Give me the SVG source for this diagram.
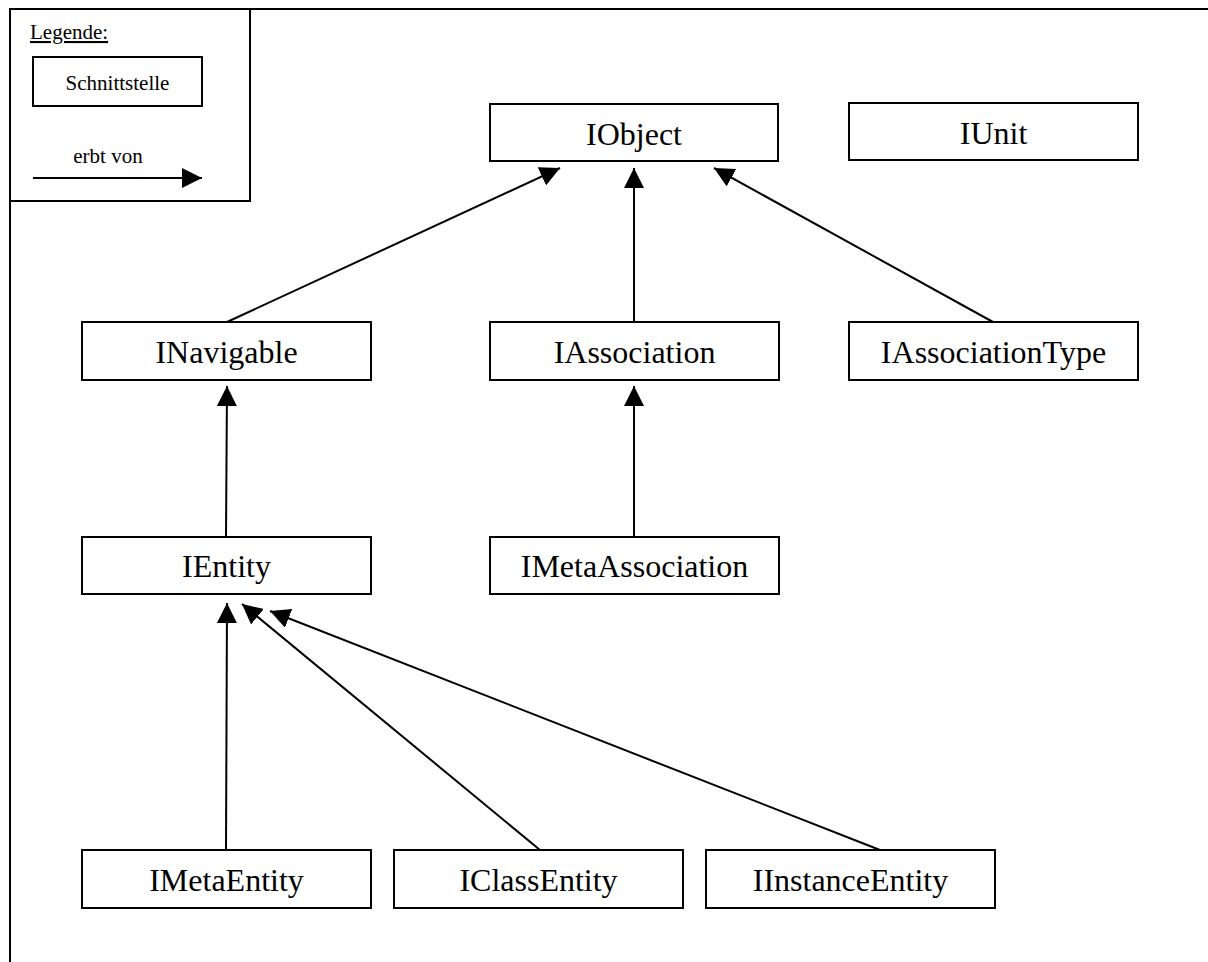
<svg xmlns="http://www.w3.org/2000/svg" width="1208" height="962" viewBox="0 0 1208 962">
  <style>
    .box { fill: #ffffff; stroke: #000000; stroke-width: 2; }
    .lbl { font-family: "Liberation Serif", "Times New Roman", serif; font-size: 32px; fill: #000000; text-anchor: middle; }
    .small { font-family: "Liberation Serif", "Times New Roman", serif; font-size: 21px; fill: #000000; }
    .edge { stroke: #000000; stroke-width: 2; fill: none; marker-end: url(#tri); }
    .frame { stroke: #000000; stroke-width: 2; fill: none; }
  </style>
  <defs>
    <marker id="tri" markerUnits="userSpaceOnUse" markerWidth="20" markerHeight="20" refX="20" refY="10" orient="auto">
      <path d="M0,0 L20,10 L0,20 Z" fill="#000000"/>
    </marker>
  </defs>
  <rect width="1208" height="962" fill="#ffffff"/>

  <!-- page frame (open to the right and bottom) -->
  <path class="frame" d="M10,962 L10,9 L1208,9"/>

  <!-- legend -->
  <g id="legend">
    <rect class="frame" x="10" y="9" width="240" height="192"/>
    <text class="small" x="30" y="39" text-decoration="underline">Legende:</text>
    <rect class="box" x="33" y="57" width="169" height="49"/>
    <text class="small" x="117.5" y="90" text-anchor="middle" font-size="23">Schnittstelle</text>
    <text class="small" x="108" y="163" text-anchor="middle">erbt von</text>
    <line class="edge" x1="33" y1="178" x2="202" y2="178"/>
  </g>

  <!-- inheritance connectors -->
  <g id="connectors">
    <line class="edge" x1="227" y1="322" x2="560" y2="168"/>
    <line class="edge" x1="634" y1="322" x2="634" y2="168"/>
    <line class="edge" x1="993" y1="322" x2="714" y2="168"/>
    <line class="edge" x1="226" y1="537" x2="227" y2="386"/>
    <line class="edge" x1="634" y1="537" x2="634" y2="386"/>
    <line class="edge" x1="226" y1="850" x2="227" y2="603"/>
    <line class="edge" x1="540" y1="850" x2="242" y2="604"/>
    <line class="edge" x1="880" y1="850" x2="270" y2="611"/>
  </g>

  <g id="IObject">
    <rect class="box" x="490" y="104" width="288" height="57"/>
    <text class="lbl" x="634" y="145">IObject</text>
  </g>
  <g id="IUnit">
    <rect class="box" x="849" y="103" width="289" height="57"/>
    <text class="lbl" x="993.5" y="144">IUnit</text>
  </g>
  <g id="INavigable">
    <rect class="box" x="82" y="322" width="289" height="58"/>
    <text class="lbl" x="226.5" y="363">INavigable</text>
  </g>
  <g id="IAssociation">
    <rect class="box" x="490" y="322" width="289" height="58"/>
    <text class="lbl" x="634.5" y="363">IAssociation</text>
  </g>
  <g id="IAssociationType">
    <rect class="box" x="849" y="322" width="289" height="58"/>
    <text class="lbl" x="993.5" y="363">IAssociationType</text>
  </g>
  <g id="IEntity">
    <rect class="box" x="82" y="537" width="289" height="57"/>
    <text class="lbl" x="226.5" y="577">IEntity</text>
  </g>
  <g id="IMetaAssociation">
    <rect class="box" x="490" y="537" width="289" height="57"/>
    <text class="lbl" x="634.5" y="577">IMetaAssociation</text>
  </g>
  <g id="IMetaEntity">
    <rect class="box" x="82" y="850" width="289" height="58"/>
    <text class="lbl" x="226.5" y="891">IMetaEntity</text>
  </g>
  <g id="IClassEntity">
    <rect class="box" x="394" y="850" width="289" height="58"/>
    <text class="lbl" x="538.5" y="891">IClassEntity</text>
  </g>
  <g id="IInstanceEntity">
    <rect class="box" x="706" y="850" width="289" height="58"/>
    <text class="lbl" x="850.5" y="891">IInstanceEntity</text>
  </g>
</svg>
